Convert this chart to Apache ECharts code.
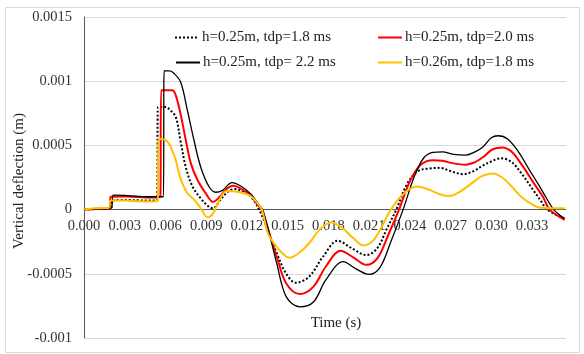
<!DOCTYPE html>
<html>
<head>
<meta charset="utf-8">
<script src="https://cdn.jsdelivr.net/npm/echarts@6/dist/echarts.min.js"></script>
<style>html,body{margin:0;padding:0;background:#fff;}#c{width:584px;height:354px;}</style>
</head>
<body>
<div id="c"></div>
<script>
// Names
const seriesNames = ['h=0.25m, tdp=1.8 ms', 'h=0.25m, tdp=2.0 ms', 'h=0.25m, tdp= 2.2 ms', 'h=0.26m, tdp=1.8 ms'];
const xTicks = ['0.000','0.003','0.006','0.009','0.012','0.015','0.018','0.021','0.024','0.027','0.030','0.033'];
const yTicks = ['-0.001','-0.0005','0','0.0005','0.001','0.0015'];

// Time (s) and deflection (m) for each series
const t18 = [0,0.0010,0.0020,0.00206,0.0030,0.0040,0.0050,0.00538,0.00545,0.0060,0.0063,0.00676,0.0071,0.0075,0.0080,0.0086,0.0092,0.0095,0.0100,0.0106,0.0111,0.0117,0.0123,0.0129,0.0135,0.0142,0.0149,0.0156,0.0166,0.0176,0.0187,0.0197,0.0208,0.0216,0.0223,0.0230,0.0238,0.0246,0.0254,0.0262,0.0270,0.0279,0.0287,0.0294,0.0301,0.0307,0.0315,0.0323,0.0331,0.0337,0.0341,0.0354];
const v18 = [0,0.000005,0.000008,0.00007,0.000075,0.000072,0.00007,0.000072,0.0008,0.0008,0.00078,0.00072,0.00054,0.00033,0.000178,0.000087,0.000022,0.00001,0.00007,0.00014,0.00016,0.00014,0.0001,0,-0.00015,-0.00034,-0.0005,-0.00057,-0.00052,-0.000367,-0.000243,-0.0003,-0.000354,-0.0003,-0.00015,0,0.0002,0.0003,0.00032,0.000325,0.0003,0.000276,0.0003,0.000345,0.00038,0.0004,0.00037,0.00027,0.00015,0.00006,0,-0.00007];

const t20 = [0,0.0010,0.0019,0.00195,0.0030,0.0040,0.0050,0.00562,0.00568,0.0065,0.00676,0.0071,0.0075,0.00787,0.00836,0.00897,0.0095,0.0100,0.0105,0.0110,0.0116,0.0123,0.0127,0.01307,0.0136,0.0142,0.0149,0.0159,0.0169,0.0178,0.0189,0.0198,0.0208,0.0216,0.0224,0.0232,0.0240,0.0248,0.0257,0.0264,0.0272,0.0281,0.0288,0.0294,0.0301,0.0308,0.0315,0.0323,0.0331,0.0338,0.0343,0.0354];
const v20 = [0,0.000005,0.000008,0.0001,0.000102,0.000098,0.000095,0.000098,0.00093,0.00093,0.00089,0.00075,0.00054,0.00036,0.00023,0.000126,0.00006,0.0001,0.00016,0.000185,0.00016,0.00011,0.00005,0,-0.00017,-0.000367,-0.000575,-0.000658,-0.0006,-0.000445,-0.00032,-0.00037,-0.00043,-0.00038,-0.0002,0,0.00022,0.00035,0.000385,0.00038,0.00036,0.00035,0.00037,0.00041,0.00047,0.000484,0.00045,0.00034,0.00021,0.0001,0,-0.00008];

const t22 = [0,0.0010,0.0019,0.00205,0.00215,0.0030,0.0040,0.0050,0.00585,0.0059,0.0063,0.00664,0.00713,0.00762,0.0081,0.0086,0.0092,0.0097,0.0102,0.0109,0.0116,0.0123,0.0128,0.0132,0.0142,0.0149,0.0159,0.0169,0.0178,0.0191,0.0200,0.0210,0.0218,0.0226,0.0235,0.0243,0.0250,0.0257,0.0264,0.0272,0.0281,0.0288,0.0294,0.0300,0.0305,0.0312,0.0320,0.0328,0.0335,0.0340,0.0346,0.0354];
const v22 = [0,0.000005,0.000007,0.00002,0.000113,0.00011,0.000102,0.0001,0.0001,0.00108,0.00108,0.00106,0.00099,0.00077,0.00054,0.00033,0.00018,0.000135,0.00015,0.00021,0.00018,0.00012,0.00005,-0.00001,-0.00042,-0.00068,-0.000757,-0.00072,-0.00055,-0.000405,-0.00046,-0.000505,-0.00045,-0.00025,0,0.00025,0.0004,0.000445,0.00045,0.00043,0.000424,0.00045,0.00049,0.00056,0.000575,0.00055,0.00045,0.00031,0.00019,0.0001,0,-0.00007];

const t26 = [0,0.0008,0.00185,0.00195,0.0030,0.0040,0.0050,0.00542,0.00549,0.0057,0.00615,0.0065,0.00676,0.0070,0.00726,0.00762,0.0081,0.0086,0.0091,0.0095,0.0100,0.0105,0.0112,0.0122,0.0127,0.0131,0.01355,0.0142,0.01515,0.0158,0.0166,0.0174,0.0182,0.0190,0.0198,0.0206,0.0213,0.0220,0.0226,0.0235,0.0245,0.0253,0.0262,0.0269,0.0277,0.0285,0.0293,0.0301,0.0308,0.0315,0.0322,0.0330,0.0336,0.0354];
const v26 = [0,0.00001,0.000015,0.00007,0.00007,0.000065,0.000063,0.000065,0.00054,0.00055,0.00053,0.00046,0.000385,0.00028,0.0002,0.000126,0.00008,0.00001,-0.00006,-0.00003,0.00008,0.000145,0.00014,0.00011,0.00006,0,-0.000185,-0.00029,-0.000375,-0.00034,-0.00026,-0.00015,-0.0001,-0.00014,-0.00022,-0.00028,-0.00024,-0.00012,0,0.00012,0.00018,0.00016,0.00012,0.000105,0.00014,0.0002,0.00026,0.000282,0.00025,0.00018,0.0001,0.00004,0.000015,0.00001];

const zip = (t, v) => t.map((x, i) => [x, v[i]]);
const font = 'Liberation Serif';

const gridTop = 17, gridBottom = 16, chartH = 354;
const yMin = -0.001, yMax = 0.0015;
// distance (px) from bottom of grid to the value 0 on the y axis
const plotH = chartH - gridTop - gridBottom;
const zeroOffset = plotH * (0 - yMin) / (yMax - yMin);

const mkSeries = (name, data, color, width, type) => ({
  name, type: 'line', data, showSymbol: false, symbol: 'none',
  smooth: 0.35,
  lineStyle: { color, width, type },
  itemStyle: { color },
  emphasis: { disabled: true }
});

const mkLegend = (name, left, top) => ({
  data: [name], left, top, padding: 0, itemWidth: 24, itemHeight: 12, itemGap: 3,
  selectedMode: false,
  itemStyle: { opacity: 0 },
  textStyle: { fontFamily: font, fontSize: 15, color: '#222', padding: [0, 0, 0, -2] }
});

const chart = echarts.init(document.getElementById('c'), null, { renderer: 'canvas' });
chart.setOption({
  animation: false,
  backgroundColor: '#fff',
  grid: { left: 84, right: 18, top: gridTop, bottom: gridBottom, containLabel: false, outerBoundsMode: 'none' },
  legend: [
    mkLegend(seriesNames[0], 174, 30),
    mkLegend(seriesNames[1], 377, 30),
    mkLegend(seriesNames[2], 175, 55),
    mkLegend(seriesNames[3], 377, 55)
  ],
  xAxis: {
    type: 'value', min: 0, max: 0.0355, interval: 0.003,
    position: 'bottom', offset: -zeroOffset,
    axisLine: { onZero: false, lineStyle: { color: '#595959', width: 1 } },
    axisTick: { show: false },
    splitLine: { show: false },
    axisLabel: {
      fontFamily: font, fontSize: 14.5, color: '#333', margin: 9,
      showMaxLabel: false,
      formatter: v => {
        const s = v.toFixed(3);
        return xTicks.includes(s) && Math.abs(v * 1000 / 3 - Math.round(v * 1000 / 3)) < 1e-6 ? s : '';
      }
    }
  },
  yAxis: {
    type: 'value', min: yMin, max: yMax, interval: 0.0005,
    axisLine: { show: true, onZero: false, lineStyle: { color: '#595959', width: 1 } },
    axisTick: { show: false },
    splitLine: { show: true, lineStyle: { color: '#d9d9d9', width: 1 } },
    axisLabel: {
      fontFamily: font, fontSize: 14.5, color: '#333', margin: 12,
      formatter: v => { const s = String(parseFloat(v.toFixed(4))); return yTicks.includes(s) ? s : ''; }
    }
  },
  graphic: [
    { type: 'rect', shape: { x: 5.5, y: 7.5, width: 574, height: 345 }, style: { fill: null, stroke: '#d9d9d9', lineWidth: 1 }, silent: true, z: -1 },
    { type: 'text', x: 336, y: 323, style: { text: 'Time (s)', font: '15px "Liberation Serif"', fill: '#222', textAlign: 'center', textVerticalAlign: 'middle' } },
    { type: 'text', x: 19.5, y: 181, rotation: Math.PI / 2, style: { text: 'Vertical deflection (m)', font: '15px "Liberation Serif"', fill: '#222', textAlign: 'center', textVerticalAlign: 'middle' } }
  ],
  series: [
    mkSeries(seriesNames[0], zip(t18, v18), '#000000', 2, 'dotted'),
    mkSeries(seriesNames[1], zip(t20, v20), '#ff0000', 2, 'solid'),
    mkSeries(seriesNames[2], zip(t22, v22), '#000000', 1.3, 'solid'),
    mkSeries(seriesNames[3], zip(t26, v26), '#ffc000', 2, 'solid')
  ]
});
</script>
</body>
</html>
